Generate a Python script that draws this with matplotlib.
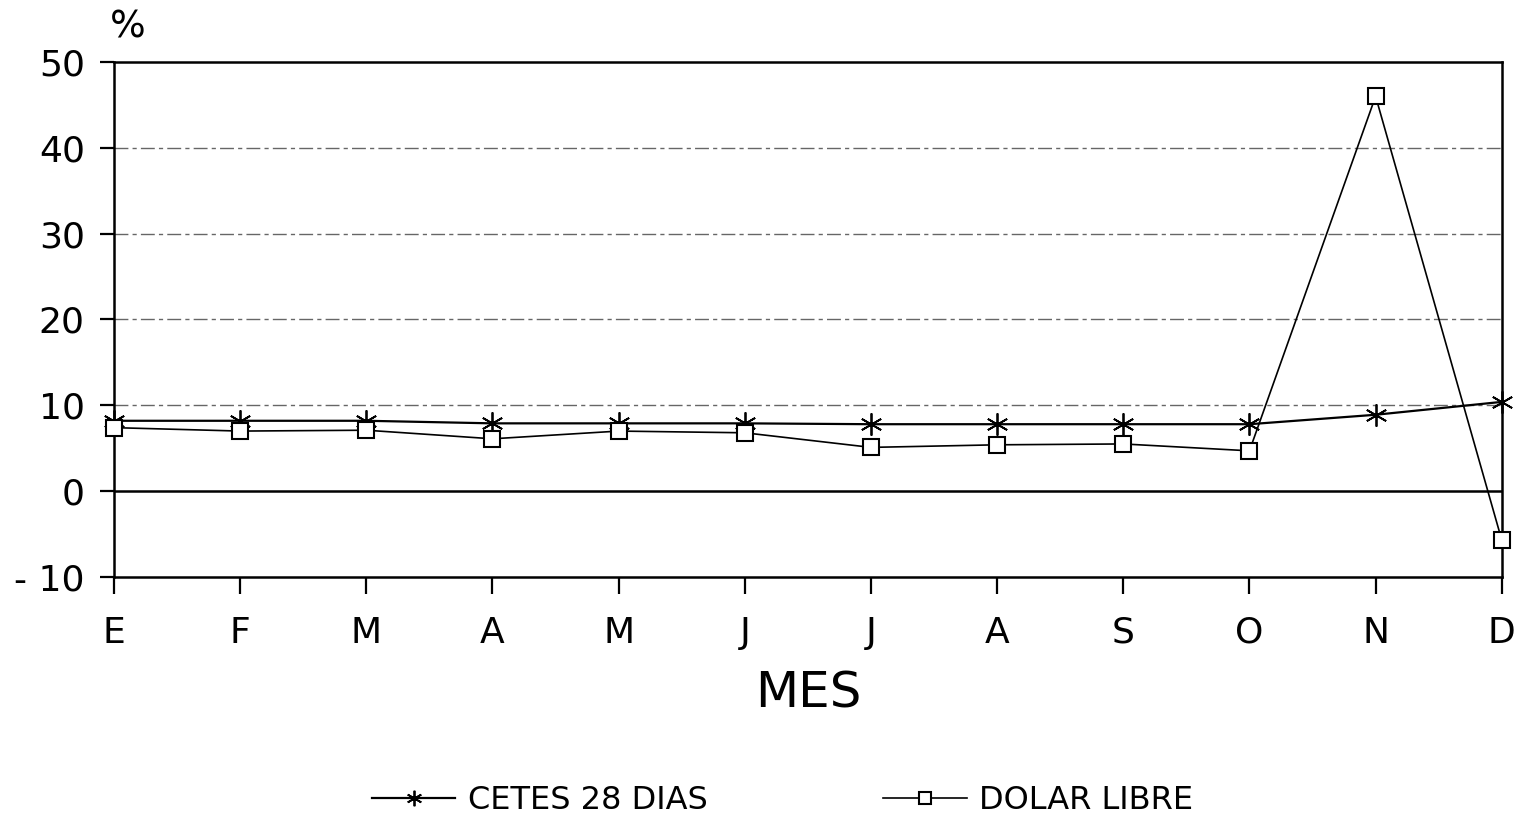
import matplotlib.pyplot as plt
import numpy as np

meses = ["E", "F", "M", "A", "M", "J", "J", "A", "S", "O", "N", "D"]
cetes = [8.2, 8.2, 8.2, 7.9, 7.9, 7.9, 7.8, 7.8, 7.8, 7.8, 8.9, 10.4]
dolar = [7.4, 7.0, 7.1, 6.1, 7.0, 6.8, 5.1, 5.4, 5.5, 4.7, 46.0, -5.7]
yticks = [-10, 0, 10, 20, 30, 40, 50]
ylabels = ['- 10', '0', '10', '20', '30', '40', '50']

plt.rcParams['font.family'] = ['DejaVu Sans']

fig = plt.figure(figsize=(15.2, 8.25), dpi=100)
ax = fig.add_axes([0.075, 0.3006, 0.913, 0.6243])

x = np.arange(len(meses))

for yv in [10, 20, 30, 40]:
    ax.axhline(yv, color='#666666', lw=1.0, ls=(0, (10, 3, 3, 3)), zorder=1)
ax.axhline(0, color='black', lw=1.8, zorder=1)

ax.plot(x, cetes, '-', color='black', lw=1.6, marker=(6, 2, 0), ms=16,
        mew=1.3, label='CETES 28 DIAS', zorder=3, clip_on=False)
ax.plot(x, dolar, '-', color='black', lw=1.2, marker='s', ms=12,
        mfc='white', mew=1.5, label='DOLAR LIBRE', zorder=3, clip_on=False)

ax.set_xlim(0, 11)
ax.set_ylim(-10, 50)
ax.set_yticks(yticks)
ax.set_yticklabels(ylabels)
ax.set_xticks(x)
ax.set_xticklabels(meses)
ax.tick_params(axis='both', labelsize=26, width=1.6, direction='out')
ax.tick_params(axis='y', length=10, pad=11)
ax.tick_params(axis='x', length=12, pad=16)
for s in ax.spines.values():
    s.set_linewidth(1.8)

ax.set_xlabel('MES', fontsize=36, labelpad=14)
fig.text(128 / 1520, 1 - 28 / 825, '%', fontsize=27, ha='center', va='center')

fig.legend(loc='center', bbox_to_anchor=(0.515, 0.03), ncol=2, frameon=False,
           fontsize=23, handlelength=2.6, handletextpad=0.4, columnspacing=5.5,
           markerscale=0.7)

plt.savefig('out.png', dpi=100)
